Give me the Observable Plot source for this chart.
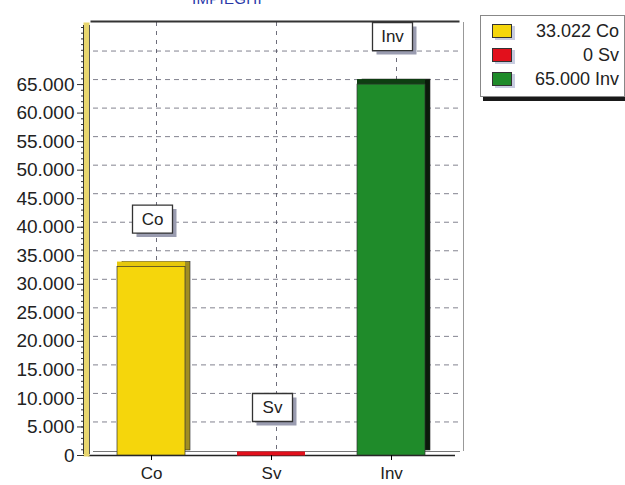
<!DOCTYPE html>
<html>
<head>
<meta charset="utf-8">
<script src="https://cdn.jsdelivr.net/npm/d3@7"></script>
<script src="https://cdn.jsdelivr.net/npm/@observablehq/plot@0.6"></script>
<style>
  html, body { margin: 0; padding: 0; background: #fff; }
  #wrap { position: relative; width: 625px; height: 485px; overflow: hidden; font-family: "Liberation Sans", Arial, sans-serif; }
  #title { position: absolute; top: -9px; left: 192px; font-size: 15px; line-height: 15px; color: #2838a8; letter-spacing: 0.3px; }
  #legend { position: absolute; left: 480px; top: 15px; width: 145px; height: 82px; border: 1px solid #888; background: #fff; box-shadow: 3px 4px 0 #1a1a1a; box-sizing: border-box; }
  .row { position: absolute; left: 0; right: 0; height: 22px; }
  .sw { position: absolute; left: 11px; top: 4px; width: 18px; height: 12px; border: 1px solid #333; box-shadow: 3px 2px 0 #c8cce0; }
  .lt { position: absolute; right: 5px; top: 0; font-size: 18px; line-height: 22px; color: #222; }
</style>
</head>
<body>
<div id="wrap">
  <div id="chart"></div>
  <div id="title">IMPIEGHI</div>
  <div id="legend"></div>
</div>
<script>
const categories = ["Co", "Sv", "Inv"];
const values = [33022, 0, 65000];
const frontColors = ["#f5d60c", "#e2101c", "#1f8b2a"];
const topColors = ["#e6c80c", "#b00a14", "#0e3e12"];
const sideColors = ["#a08e22", "#800810", "#0a1a0a"];
const yTicks = [0, 5000, 10000, 15000, 20000, 25000, 30000, 35000, 40000, 45000, 50000, 55000, 60000, 65000];
const gridTicks = [5000, 10000, 15000, 20000, 25000, 30000, 35000, 40000, 45000, 50000, 55000, 60000, 65000, 70000];
const minorTicks = d3.range(0, 75001, 1000);

const it = d3.formatLocale({decimal: ",", thousands: ".", grouping: [3], currency: ["€", ""]});
const fmt = it.format(",d");

const data = categories.map((c, i) => ({cat: c, value: values[i], front: frontColors[i], top: topColors[i], side: sideColors[i]}));

const boxSymbol = {draw(ctx) { const w = 40, h = 28; ctx.rect(-w / 2, -h / 2, w, h); }};

const chart = Plot.plot({
  width: 625,
  height: 485,
  marginLeft: 88,
  marginRight: 170,
  marginTop: 27,
  marginBottom: 30,
  style: {fontFamily: "Liberation Sans, Arial, sans-serif", background: "transparent", overflow: "visible"},
  x: {domain: categories, paddingInner: 0.43, paddingOuter: 0.215, insetLeft: 3, insetRight: 4, label: null},
  y: {domain: [0, 75000], label: null},
  marks: [
    // back-plane grid
    Plot.ruleY(gridTicks, {stroke: "#5a5a6a", strokeOpacity: 0.75, strokeDasharray: "5,4", dx: 5, dy: -5}),
    Plot.ruleX(categories, {x: d => d, stroke: "#4a4a5a", strokeOpacity: 0.8, strokeDasharray: "4,5", dx: 5, dy: -5}),
    Plot.frame({anchor: "top", stroke: "#333", strokeWidth: 2, dy: -6, dx: 3}),
    Plot.frame({anchor: "right", stroke: "#999", strokeWidth: 1, dx: 8, dy: -5}),
    // floor
    Plot.ruleY([0], {stroke: "#777", strokeWidth: 1, dx: 5, dy: -4}),
    Plot.ruleY([0], {stroke: "#222", strokeWidth: 1.5}),
    // left wall
    Plot.frame({anchor: "left", stroke: "#e8d66e", strokeWidth: 6, dx: -2, dy: -2}),
    Plot.frame({anchor: "left", stroke: "#333", strokeWidth: 1, dx: -5, dy: -2}),
    Plot.frame({anchor: "left", stroke: "#555", strokeWidth: 1, dx: 1, dy: -2}),
    // 3D bars
    Plot.barY(data, {x: "cat", y: "value", fill: d => d.side, stroke: "#222", strokeWidth: 0.6, dx: 5, dy: -5}),
    Plot.barY(data, {x: "cat", y: "value", fill: d => d.top, dy: -5}),
    Plot.barY(data, {x: "cat", y: "value", fill: d => d.front, stroke: "#333", strokeWidth: 0.7}),
    Plot.tickY(data.filter(d => d.value === 0), {x: "cat", y: "value", stroke: d => d.front, strokeWidth: 4, dy: -2}),
    // value label boxes
    Plot.dot(data, {x: "cat", y: "value", symbol: boxSymbol, fill: "#9a9cb0", stroke: "none", dx: 5, dy: -44}),
    Plot.dot(data, {x: "cat", y: "value", symbol: boxSymbol, fill: "#fff", stroke: "#333", strokeWidth: 1.3, dx: 1, dy: -48}),
    Plot.text(data, {x: "cat", y: "value", text: "cat", dx: 1, dy: -48, fontSize: 17, fill: "#222"}),
    // axes
    Plot.axisY(minorTicks, {anchor: "left", tickSize: 3, dx: -4, text: null, label: null, stroke: "#333"}),
    Plot.axisY(yTicks, {anchor: "left", tickSize: 7, tickPadding: 3, dx: -4, tickFormat: fmt, fontSize: 19, fill: "#222", stroke: "#333", label: null}),
    Plot.axisX({anchor: "bottom", tickSize: 5, tickPadding: 6, fontSize: 17, fill: "#222", label: null})
  ]
});
document.getElementById("chart").appendChild(chart);

const legend = document.getElementById("legend");
data.forEach((d, i) => {
  const row = document.createElement("div");
  row.className = "row";
  row.style.top = (4 + i * 24) + "px";
  const sw = document.createElement("div");
  sw.className = "sw";
  sw.style.background = d.front;
  const lt = document.createElement("div");
  lt.className = "lt";
  lt.textContent = fmt(d.value) + " " + d.cat;
  row.appendChild(sw);
  row.appendChild(lt);
  legend.appendChild(row);
});
</script>
</body>
</html>
